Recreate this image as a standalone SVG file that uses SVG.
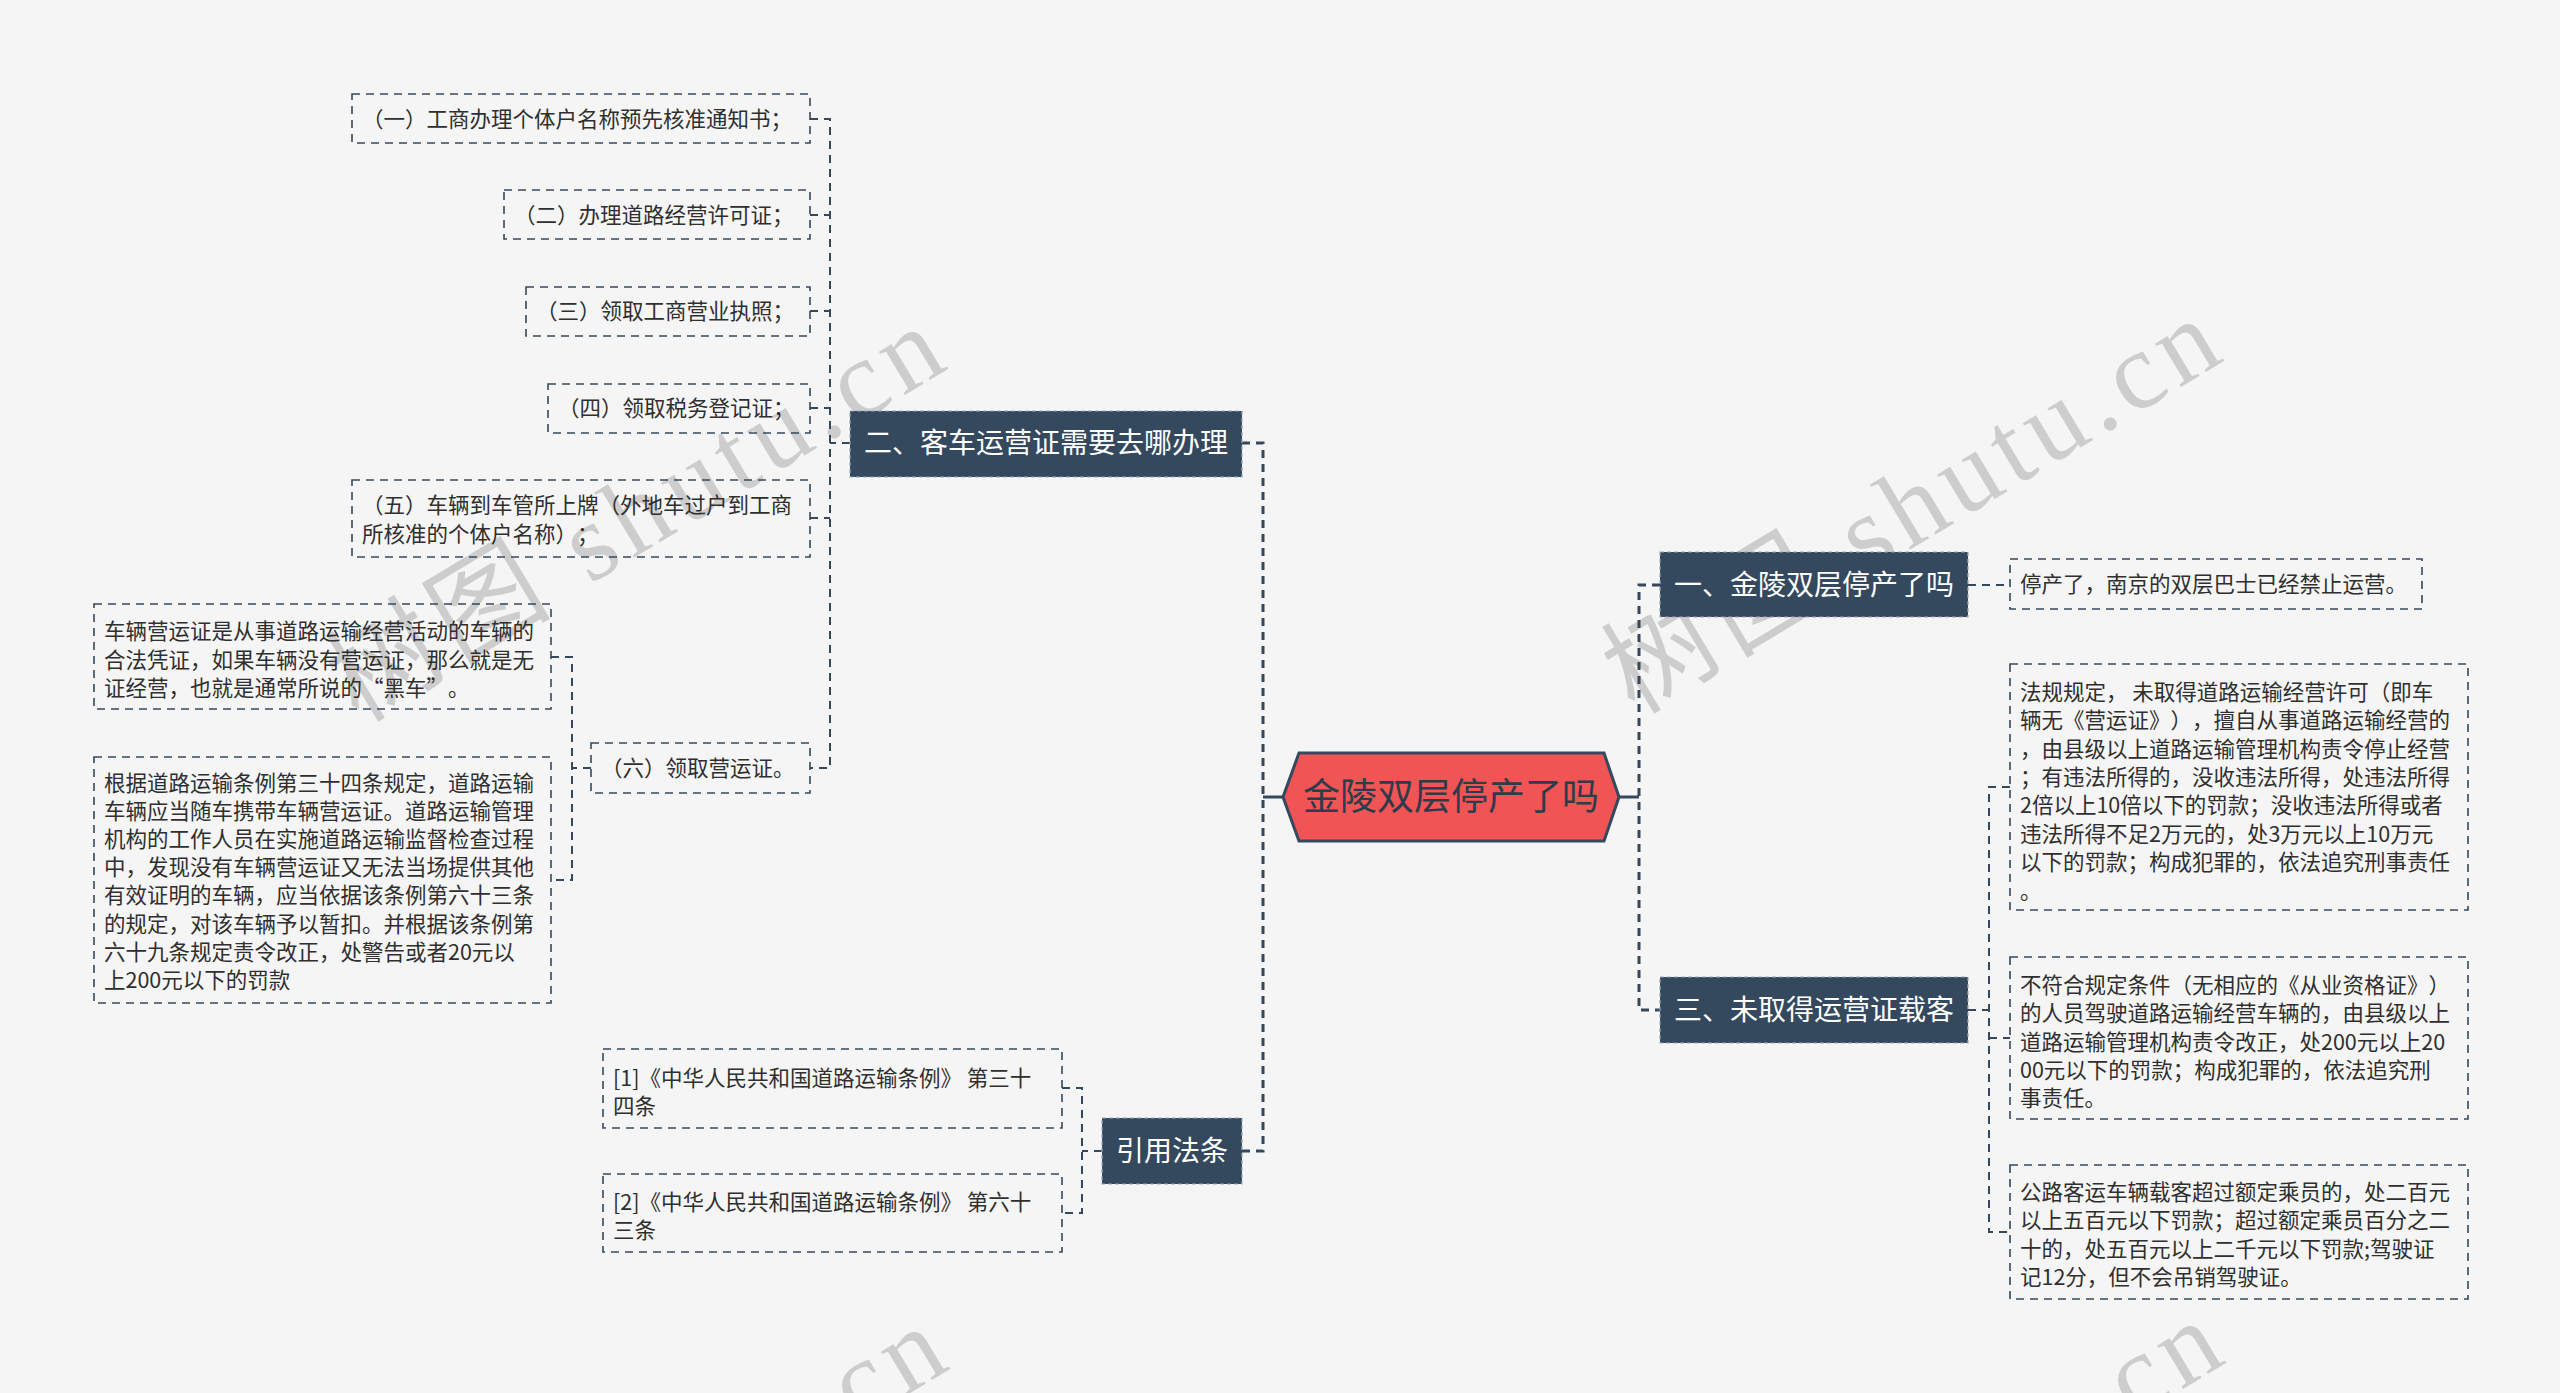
<svg xmlns="http://www.w3.org/2000/svg" width="2560" height="1393" viewBox="0 0 2560 1393">
<style>
text{text-spacing-trim:space-all}
.bg{fill:#f5f5f5}
.wm{font-family:"Liberation Serif","Noto Sans CJK SC",serif;font-size:110px;fill:#cdcdcd}
.leaf rect{fill:none;stroke:#34495e;stroke-width:1.6;stroke-dasharray:8,6}
.leaf text{font-family:"Noto Sans CJK SC","Noto Sans CJK TC",sans-serif;font-size:21.5px;fill:#2f2f2f}
.topic rect{fill:#34495e;stroke:#9aa8b8;stroke-width:1.2;stroke-dasharray:4,3}
.topic text{font-family:"Noto Sans CJK SC","Noto Sans CJK TC",sans-serif;font-size:28px;fill:#ffffff;text-anchor:middle}
.root polygon{fill:#f05454;stroke:#34495e;stroke-width:3}
.root text{font-family:"Noto Sans CJK SC","Noto Sans CJK TC",sans-serif;font-size:37px;fill:#2e3b4a;text-anchor:middle}
.c1{fill:none;stroke:#34495e;stroke-width:3;stroke-dasharray:8,6}
.c2{fill:none;stroke:#34495e;stroke-width:2;stroke-dasharray:8,6}
.solid{fill:none;stroke:#34495e;stroke-width:3}
</style>
<rect class="bg" x="0" y="0" width="2560" height="1393"/>
<g id="watermarks">
<text class="wm" x="950" y="368" text-anchor="end" textLength="690" lengthAdjust="spacing" transform="rotate(-31 950 368)">树图 shutu.cn</text>
<text class="wm" x="2226" y="360" text-anchor="end" textLength="690" lengthAdjust="spacing" transform="rotate(-31 2226 360)">树图 shutu.cn</text>
<text class="wm" x="952" y="1368" text-anchor="end" textLength="690" lengthAdjust="spacing" transform="rotate(-31 952 1368)">树图 shutu.cn</text>
<text class="wm" x="2228" y="1362" text-anchor="end" textLength="690" lengthAdjust="spacing" transform="rotate(-31 2228 1362)">树图 shutu.cn</text>
</g>
<g id="connectors">
<path class="c1" d="M1242,443 H1263 V1151 H1242"/>
<path class="solid" d="M1263,797 H1283"/>
<path class="c1" d="M1660,585 H1639 V1010 H1660"/>
<path class="solid" d="M1619,797 H1639"/>
<path class="c2" d="M850,443 H830"/>
<path class="c2" d="M810,119 H830 V768 H810"/>
<path class="c2" d="M810,215 H830 M810,311 H830 M810,408 H830 M810,518 H830"/>
<path class="c2" d="M591,768 H572"/>
<path class="c2" d="M551,657 H572 V880 H551"/>
<path class="c2" d="M1102,1151 H1082"/>
<path class="c2" d="M1062,1088 H1082 V1213 H1062"/>
<path class="c2" d="M1968,585 H2010"/>
<path class="c2" d="M1968,1010 H1989"/>
<path class="c2" d="M2010,787 H1989 V1232 H2010"/>
<path class="c2" d="M1989,1038 H2010"/>
</g>
<g id="root" class="root">
<polygon points="1283,797 1299,753 1604,753 1619,797 1604,841 1299,841"/>
<text x="1451" y="810">金陵双层停产了吗</text>
</g>
<g id="topic-2" class="topic">
<rect x="850" y="411" width="392" height="66"/>
<text x="1046" y="453">二、客车运营证需要去哪办理</text>
</g>
<g id="topic-ref" class="topic">
<rect x="1102" y="1118" width="140" height="66"/>
<text x="1172" y="1161">引用法条</text>
</g>
<g id="topic-1" class="topic">
<rect x="1660" y="552" width="308" height="65"/>
<text x="1814" y="595">一、金陵双层停产了吗</text>
</g>
<g id="topic-3" class="topic">
<rect x="1660" y="977" width="308" height="66"/>
<text x="1814" y="1020">三、未取得运营证载客</text>
</g>
<g id="leaf-2-1" class="leaf">
<rect x="352" y="94" width="458" height="49"/>
<text x="362" y="126.7">（一）工商办理个体户名称预先核准通知书；</text>
</g>
<g id="leaf-2-2" class="leaf">
<rect x="504" y="190" width="306" height="49"/>
<text x="514" y="222.7">（二）办理道路经营许可证；</text>
</g>
<g id="leaf-2-3" class="leaf">
<rect x="526" y="287" width="284" height="49"/>
<text x="536" y="318.7">（三）领取工商营业执照；</text>
</g>
<g id="leaf-2-4" class="leaf">
<rect x="548" y="384" width="262" height="49"/>
<text x="558" y="415.7">（四）领取税务登记证；</text>
</g>
<g id="leaf-2-5" class="leaf">
<rect x="352" y="480" width="458" height="77"/>
<text x="362" y="513.2"><tspan x="362" y="513.2">（五）车辆到车管所上牌（外地车过户到工商</tspan><tspan x="362" y="541.6">所核准的个体户名称）；</tspan></text>
</g>
<g id="leaf-2-6" class="leaf">
<rect x="591" y="743" width="219" height="50"/>
<text x="601" y="775.7">（六）领取营运证。</text>
</g>
<g id="leaf-2-6-1" class="leaf">
<rect x="94" y="604" width="457" height="105"/>
<text><tspan x="104" y="639.4">车辆营运证是从事道路运输经营活动的车辆的</tspan><tspan x="104" y="667.7">合法凭证，如果车辆没有营运证，那么就是无</tspan><tspan x="104" y="696">证经营，也就是通常所说的“黑车”。</tspan></text>
</g>
<g id="leaf-2-6-2" class="leaf">
<rect x="94" y="757" width="457" height="246"/>
<text><tspan x="104" y="791">根据道路运输条例第三十四条规定，道路运输</tspan><tspan x="104" y="819.1">车辆应当随车携带车辆营运证。道路运输管理</tspan><tspan x="104" y="847.2">机构的工作人员在实施道路运输监督检查过程</tspan><tspan x="104" y="875.3">中，发现没有车辆营运证又无法当场提供其他</tspan><tspan x="104" y="903.4">有效证明的车辆，应当依据该条例第六十三条</tspan><tspan x="104" y="931.5">的规定，对该车辆予以暂扣。并根据该条例第</tspan><tspan x="104" y="959.6">六十九条规定责令改正，处警告或者20元以</tspan><tspan x="104" y="987.7">上200元以下的罚款</tspan></text>
</g>
<g id="leaf-ref-1" class="leaf">
<rect x="603" y="1049" width="459" height="79"/>
<text><tspan x="613" y="1085.7">[1]《中华人民共和国道路运输条例》 第三十</tspan><tspan x="613" y="1114">四条</tspan></text>
</g>
<g id="leaf-ref-2" class="leaf">
<rect x="603" y="1174" width="459" height="78"/>
<text><tspan x="613" y="1210">[2]《中华人民共和国道路运输条例》 第六十</tspan><tspan x="613" y="1238">三条</tspan></text>
</g>
<g id="leaf-1-1" class="leaf">
<rect x="2010" y="559" width="412" height="50"/>
<text x="2020" y="591.7">停产了，南京的双层巴士已经禁止运营。</text>
</g>
<g id="leaf-3-1" class="leaf">
<rect x="2010" y="664" width="458" height="246"/>
<text><tspan x="2020" y="699.7">法规规定， 未取得道路运输经营许可（即车</tspan><tspan x="2020" y="728.1">辆无《营运证》），擅自从事道路运输经营的</tspan><tspan x="2020" y="756.5">，由县级以上道路运输管理机构责令停止经营</tspan><tspan x="2020" y="784.9">；有违法所得的，没收违法所得，处违法所得</tspan><tspan x="2020" y="813.3">2倍以上10倍以下的罚款；没收违法所得或者</tspan><tspan x="2020" y="841.7">违法所得不足2万元的，处3万元以上10万元</tspan><tspan x="2020" y="870.1">以下的罚款；构成犯罪的，依法追究刑事责任</tspan><tspan x="2020" y="898.5">。</tspan></text>
</g>
<g id="leaf-3-2" class="leaf">
<rect x="2010" y="957" width="458" height="162"/>
<text><tspan x="2020" y="992.7">不符合规定条件（无相应的《从业资格证》）</tspan><tspan x="2020" y="1021.1">的人员驾驶道路运输经营车辆的，由县级以上</tspan><tspan x="2020" y="1049.5">道路运输管理机构责令改正，处200元以上20</tspan><tspan x="2020" y="1077.9">00元以下的罚款；构成犯罪的，依法追究刑</tspan><tspan x="2020" y="1106.3">事责任。</tspan></text>
</g>
<g id="leaf-3-3" class="leaf">
<rect x="2010" y="1165" width="458" height="134"/>
<text><tspan x="2020" y="1199.7">公路客运车辆载客超过额定乘员的，处二百元</tspan><tspan x="2020" y="1228.1">以上五百元以下罚款；超过额定乘员百分之二</tspan><tspan x="2020" y="1256.5">十的，处五百元以上二千元以下罚款;驾驶证</tspan><tspan x="2020" y="1284.9">记12分，但不会吊销驾驶证。</tspan></text>
</g>
</svg>
